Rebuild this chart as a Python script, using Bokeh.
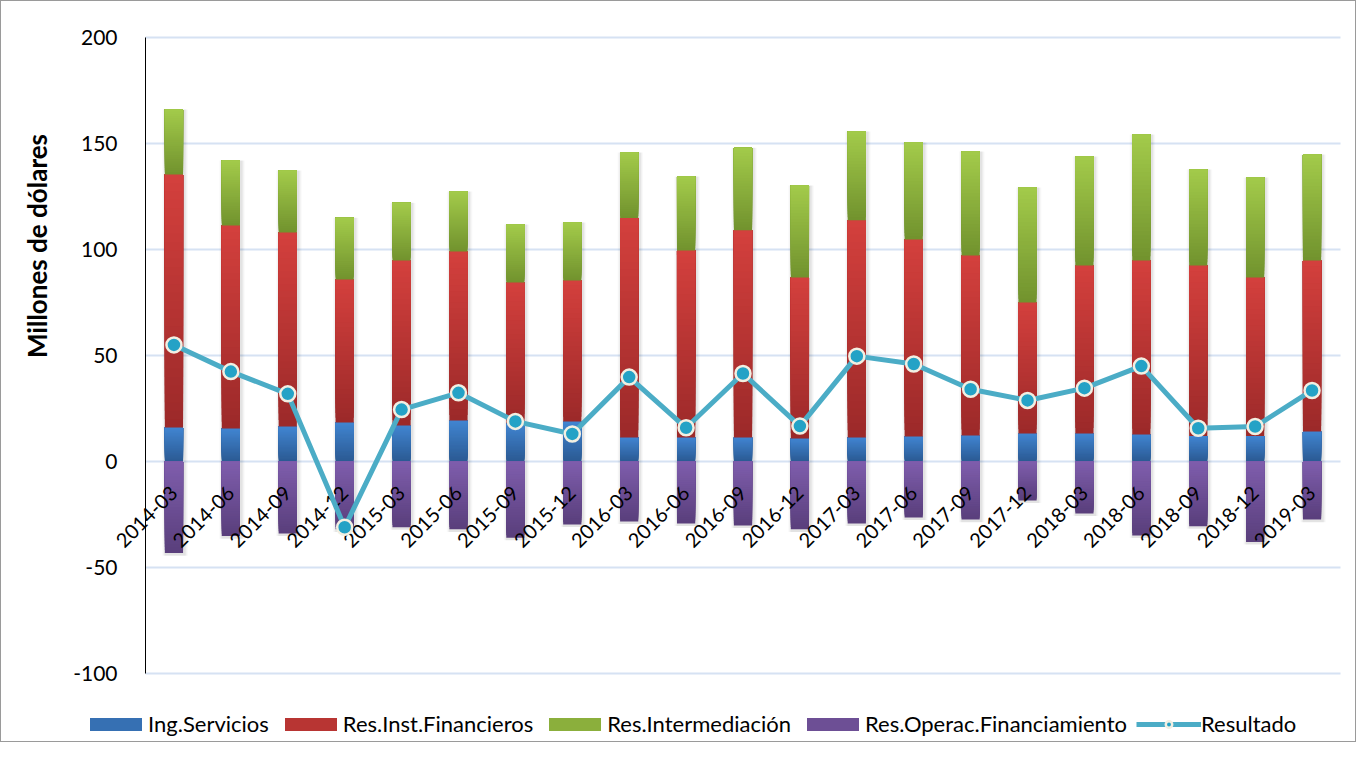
import numpy as np
from bokeh.plotting import figure
from bokeh.models import ColumnDataSource, Range1d, FixedTicker, Legend, LegendItem, Label
from bokeh.embed import file_html
from bokeh.resources import INLINE

# ---------------- data (millones de dólares) ----------------
quarters = ["2014-03", "2014-06", "2014-09", "2014-12", "2015-03", "2015-06", "2015-09",
            "2015-12", "2016-03", "2016-06", "2016-09", "2016-12", "2017-03", "2017-06",
            "2017-09", "2017-12", "2018-03", "2018-06", "2018-09", "2018-12", "2019-03"]
ing_servicios = [16.0, 15.6, 16.5, 18.4, 17.0, 19.3, 18.0, 18.9, 11.3, 11.3, 11.3,
                 10.8, 11.3, 11.8, 12.3, 13.2, 13.2, 12.7, 12.0, 12.0, 14.1]
res_inst_financieros = [119.4, 95.7, 91.5, 67.4, 77.8, 79.7, 66.4, 66.5, 103.5, 88.2, 97.8,
                        76.0, 102.5, 92.9, 84.9, 61.8, 79.3, 82.1, 80.5, 74.8, 80.7]
res_intermediacion = [30.6, 30.7, 29.3, 29.2, 27.2, 28.4, 27.4, 27.3, 31.0, 34.9, 38.9,
                      43.4, 41.9, 45.8, 49.0, 54.2, 51.4, 59.4, 45.2, 47.2, 50.0]
res_operac_financiamiento = [-43.2, -35.2, -34.0, -32.0, -31.0, -32.0, -36.0, -29.7, -28.3,
                             -29.2, -30.2, -32.0, -29.2, -26.4, -27.4, -18.4, -24.5, -34.9,
                             -30.5, -38.0, -27.4]
resultado = [55.0, 42.4, 31.9, -31.0, 24.5, 32.4, 18.9, 13.0, 39.8, 15.9, 41.5,
             16.7, 49.7, 46.0, 34.1, 28.8, 34.6, 45.0, 15.7, 16.5, 33.5]
y_ticks = [-100, -50, 0, 50, 100, 150, 200]
series_names = ["Ing.Servicios", "Res.Inst.Financieros", "Res.Intermediación",
                "Res.Operac.Financiamiento", "Resultado"]
y_title = "Millones de dólares"


def hex2rgb(h):
    h = h.lstrip("#")
    return np.array([int(h[i:i + 2], 16) for i in (0, 2, 4)], dtype=float)


def mix(c_bottom, c_top, t):
    c = hex2rgb(c_bottom) * (1 - t) + hex2rgb(c_top) * t
    return "#%02x%02x%02x" % tuple(int(round(v)) for v in c)


# ---------------- layout (pixels) ----------------
W, H = 1356, 742
plot_left, plot_right = 144, 1339      # pixel positions of the category band
plot_top, plot_bottom = 36, 672        # pixel positions of y = 200 and y = -100
n = len(quarters)
xpos = np.arange(n)
x_lo, x_hi = -0.5, n - 0.5
ppx = (plot_right - plot_left) / (x_hi - x_lo)
y_lo, y_hi = y_ticks[0], y_ticks[-1]
ppy = (plot_bottom - plot_top) / (y_hi - y_lo)

p = figure(x_range=Range1d(x_lo - plot_left / ppx, x_hi + (W - plot_right) / ppx),
           y_range=Range1d(y_lo - (H - plot_bottom) / ppy, y_hi + plot_top / ppy),
           width=W, height=H, output_backend="svg", toolbar_location=None,
           min_border_left=0, min_border_right=0, min_border_top=0, min_border_bottom=0)
p.outline_line_color = None
p.background_fill_color = "white"
p.border_fill_color = "white"
p.styles = {"border": "1px solid #9a9a9a", "box-sizing": "border-box"}
p.xgrid.grid_line_color = None
p.ygrid.grid_line_color = None

# horizontal gridlines across the category band
p.segment(x0=[x_lo] * len(y_ticks), x1=[x_hi] * len(y_ticks), y0=y_ticks, y1=y_ticks,
          line_color="#d6e2f3", line_width=2)

b = np.array(ing_servicios)
r = np.array(res_inst_financieros)
g = np.array(res_intermediacion)
pu = np.array(res_operac_financiamiento)
zero = np.zeros(n)
total_top = b + r + g

# soft shadow behind each column
bar_w = 0.32
for dw, alpha in [(0.13, 0.025), (0.09, 0.035), (0.05, 0.05)]:
    p.vbar(x=xpos + 0.02, bottom=pu - 1.2, top=total_top, width=bar_w + dw,
           fill_color="#000000", fill_alpha=alpha, line_color=None)

segments = [
    (series_names[0], zero, b, "#4185d1", "#2b5a93"),
    (series_names[1], b, b + r, "#d4403d", "#9b2929"),
    (series_names[2], b + r, total_top, "#a3cb4a", "#71922e"),
    (series_names[3], pu, zero, "#7f5ead", "#593e7b"),
]

# vertical colour gradient: overlapping slices, each reaching the segment top
n_slices = 30
legend_items = []
for name, lo, hi, ctop, cbot in segments:
    mid_r = None
    for i in range(n_slices):
        t0 = i / n_slices
        col = mix(cbot, ctop, (i + 0.5) / n_slices)
        src = ColumnDataSource(dict(x=xpos, bottom=lo + (hi - lo) * t0, top=hi))
        rr = p.vbar(x="x", bottom="bottom", top="top", width=bar_w, source=src,
                    fill_color=col, line_color=None)
        if i == n_slices // 2:
            mid_r = rr
    legend_items.append(LegendItem(label=name, renderers=[mid_r]))

lr = p.line(xpos, resultado, line_color="#4bacc6", line_width=5, level="overlay")
sr = p.scatter(xpos, resultado, size=15, fill_color="#24a2c6",
               line_color="#f2efe2", line_width=2.5, level="overlay")
legend_items.append(LegendItem(label=series_names[4], renderers=[lr, sr]))

# category axis on the zero line
p.xaxis.fixed_location = 0
p.xaxis.ticker = FixedTicker(ticks=list(xpos))
p.xaxis.major_label_overrides = {int(i): q for i, q in zip(xpos, quarters)}
p.xaxis.axis_line_color = None
p.xaxis.major_tick_line_color = None
p.xaxis.minor_tick_line_color = None
p.xaxis.major_label_orientation = np.pi / 4
p.xaxis.major_label_standoff = 22
p.xaxis.major_label_text_font = "Lato"
p.xaxis.major_label_text_font_size = "20px"
p.xaxis.major_label_text_color = "#000000"

# value axis on the left edge of the category band
p.yaxis.fixed_location = x_lo
p.yaxis.bounds = (y_lo, y_hi)
p.yaxis.ticker = FixedTicker(ticks=y_ticks)
p.yaxis.major_label_overrides = {t: str(t) for t in y_ticks}
p.yaxis.axis_line_color = "#000000"
p.yaxis.axis_line_width = 1
p.yaxis.major_tick_line_color = None
p.yaxis.minor_tick_line_color = None
p.yaxis.major_label_standoff = 22
p.yaxis.major_label_text_font = "Lato"
p.yaxis.major_label_text_font_size = "21px"
p.yaxis.major_label_text_color = "#000000"

p.add_layout(Label(x=35.5, y=H - 244.5, x_units="screen", y_units="screen", text=y_title,
                   angle=np.pi / 2, text_align="center", text_baseline="middle",
                   text_font="Lato", text_font_style="bold", text_font_size="26px",
                   text_color="#000000"))

legend = Legend(items=legend_items, orientation="horizontal", location=(82, 6),
                glyph_width=65, glyph_height=16, label_standoff=0, spacing=9, padding=0,
                margin=0, border_line_color=None, background_fill_alpha=0,
                label_text_font="Lato", label_text_font_size="22px", label_text_color="#000000")
p.add_layout(legend, "center")

open("out.html", "w").write(file_html(p, INLINE))
